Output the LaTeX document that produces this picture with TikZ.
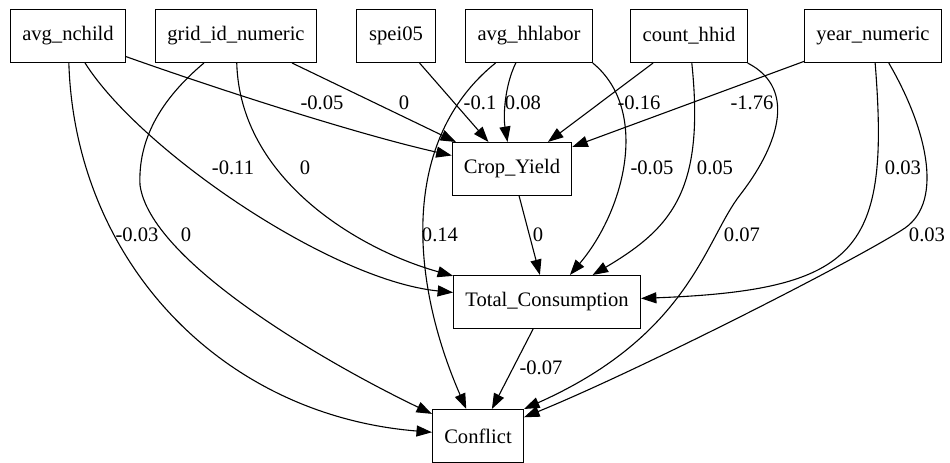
\documentclass[tikz,border=0pt]{standalone}
\usepackage{fontspec}
\setmainfont{Liberation Serif}
\usetikzlibrary{arrows.meta}

\begin{document}
\begin{tikzpicture}[x=0.68pt,y=-0.68pt,line width=0.75pt,
  >={Triangle[length=10.5pt,width=7.5pt]},
  every node/.style={font=\fontsize{14}{16}\selectfont},
  var/.style={draw,rectangle,minimum height=36pt,minimum width=54pt,inner xsep=8pt,inner ysep=0pt},
  coef/.style={inner sep=0pt}]
\useasboundingbox (0,0) rectangle (950,463);
% variables, top row
\node [var] (nchild) at (68,36) {avg\_nchild};
\node [var] (grid) at (236,36) {grid\_id\_numeric};
\node [var] (spei) at (396,36) {spei05};
\node [var] (labor) at (529,36) {avg\_hhlabor};
\node [var] (count) at (689,36) {count\_hhid};
\node [var] (year) at (873,36) {year\_numeric};
% outcomes
\node [var] (crop) at (512,169) {Crop\_Yield};
\node [var] (total) at (547,302) {Total\_Consumption};
\node [var] (conflict) at (478,436) {Conflict};
% edges into Crop_Yield
\draw [->] (nchild) .. controls (220,90) and (360,135) .. (crop);
\draw [->] (grid) -- (crop);
\draw [->] (spei) -- (crop);
\draw [->] (labor) .. controls (505,85) and (503,115) .. (crop);
\draw [->] (count) -- (crop);
\draw [->] (year) -- (crop);
% edges into Total_Consumption
\draw [->] (nchild) .. controls (140,150) and (330,280) .. (total);
\draw [->] (grid) .. controls (240,180) and (360,250) .. (total);
\draw [->] (crop) -- (total);
\draw [->] (labor.south east) .. controls (650,110) and (625,210) .. (total);
\draw [->] (count) .. controls (705,190) and (672,228) .. (total);
\draw [->] (year) .. controls (890,250) and (860,290) .. (total);
% edges into Conflict
\draw [->] (nchild) .. controls (75,260) and (220,415) .. (conflict);
\draw [->] (grid) .. controls (160,100) and (138,140) .. (140,185) .. controls (150,260) and (320,360) .. (conflict);
\draw [->] (labor) .. controls (400,140) and (410,280) .. (conflict);
\draw [->] (total) -- (conflict);
\draw [->] (count.south east) .. controls (800,90) and (775,150) .. (740,195) .. controls (705,240) and (690,335) .. (conflict.north east);
\draw [->] (year) .. controls (925,125) and (945,200) .. (905,228) .. controls (860,258) and (640,370) .. (conflict);
% coefficients
\node [coef] (w1) at (322,103) {-0.05};
\node [coef] (w2) at (404,103) {0};
\node [coef] (w3) at (480,103) {-0.1};
\node [coef] (w4) at (523,103) {0.08};
\node [coef] (w5) at (639,103) {-0.16};
\node [coef] (w6) at (752,103) {-1.76};
\node [coef] (w7) at (233,168) {-0.11};
\node [coef] (w8) at (305,168) {0};
\node [coef] (w9) at (652,168) {-0.05};
\node [coef] (w10) at (715,168) {0.05};
\node [coef] (w11) at (903,168) {0.03};
\node [coef] (w12) at (137,235) {-0.03};
\node [coef] (w13) at (186,235) {0};
\node [coef] (w14) at (440,235) {0.14};
\node [coef] (w15) at (538,235) {0};
\node [coef] (w16) at (742,235) {0.07};
\node [coef] (w17) at (927,235) {0.03};
\node [coef] (w18) at (541,368) {-0.07};
\end{tikzpicture}
\end{document}
